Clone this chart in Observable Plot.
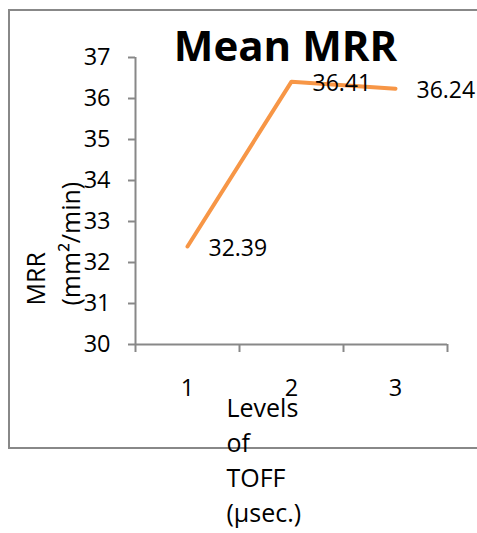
<!DOCTYPE html>
<html>
<head>
<meta charset="utf-8">
<script src="https://cdn.jsdelivr.net/npm/d3@7"></script>
<script src="https://cdn.jsdelivr.net/npm/@observablehq/plot@0.6"></script>
<style>
  html, body { margin: 0; padding: 0; background: #fff; }
  #wrap { position: relative; width: 477px; height: 533px; overflow: hidden; }
  #box { position: absolute; left: 8px; top: 9px; width: 480px; height: 440px; box-sizing: border-box; border: 2px solid #888; }
  #chart { position: absolute; left: 0; top: 0; }
</style>
</head>
<body>
<div id="wrap"><div id="box"></div><div id="chart"></div></div>
<script>
const title = "Mean MRR";
const levels = [1, 2, 3];
const mrr = [32.39, 36.41, 36.24];
const yTicks = [30, 31, 32, 33, 34, 35, 36, 37];
const yLabel = "MRR\n(mm²/min)";
const xLabel = "Levels\nof\nTOFF\n(µsec.)";

const data = levels.map((l, i) => ({level: l, value: mrr[i]}));
const xDomain = [levels[0] - 0.5, levels[levels.length - 1] + 0.5];
const boundaries = [...levels.map(l => l - 0.5), levels[levels.length - 1] + 0.5];

const gray = "#888";
const orange = "#F79646";

const plot = Plot.plot({
  width: 477,
  height: 533,
  marginLeft: 135,
  marginRight: 30,
  marginTop: 57,
  marginBottom: 189,
  style: {fontFamily: "'Open Sans', sans-serif", fontSize: "23px", background: "transparent", color: "black"},
  x: {domain: xDomain},
  y: {domain: [yTicks[0], yTicks[yTicks.length - 1]]},
  marks: [
    Plot.ruleX([xDomain[0]], {stroke: gray, strokeWidth: 2}),
    Plot.ruleY([yTicks[0]], {stroke: gray, strokeWidth: 2}),
    Plot.axisY({ticks: yTicks, tickFormat: d => String(d), tickSize: 7, tickPadding: 18, stroke: gray, strokeWidth: 2, fill: "black", label: null, fontSize: 23.5}),
    Plot.axisX({ticks: boundaries, tickSize: 8, tickFormat: () => "", stroke: gray, strokeWidth: 2, label: null}),
    Plot.axisX({ticks: levels, tickFormat: d => String(d), tickSize: 0, tickPadding: 35, fill: "black", label: null, fontSize: 23.5}),
    Plot.line(data, {x: "level", y: "value", stroke: orange, strokeWidth: 4, strokeLinecap: "round", strokeLinejoin: "round"}),
    Plot.text(data, {x: "level", y: "value", text: d => d.value.toFixed(2), textAnchor: "start", dx: 21, dy: 2, fill: "black", fontSize: 23}),
    Plot.text([title], {text: d => d, frameAnchor: "top", lineAnchor: "bottom", dx: -6, dy: 3, fontSize: 42, fontWeight: "bold", fill: "black"}),
    Plot.text([yLabel], {text: d => d, frameAnchor: "bottom-left", rotate: -90, textAnchor: "start", lineAnchor: "top", lineHeight: 1.4, dx: -115, dy: -39, fontSize: 25, fill: "black"}),
    Plot.text([xLabel], {text: d => d, frameAnchor: "bottom-left", textAnchor: "start", lineAnchor: "top", lineHeight: 1.4, dx: 91, dy: 48, fontSize: 25, fill: "black"})
  ]
});
document.getElementById("chart").appendChild(plot);
</script>
</body>
</html>
